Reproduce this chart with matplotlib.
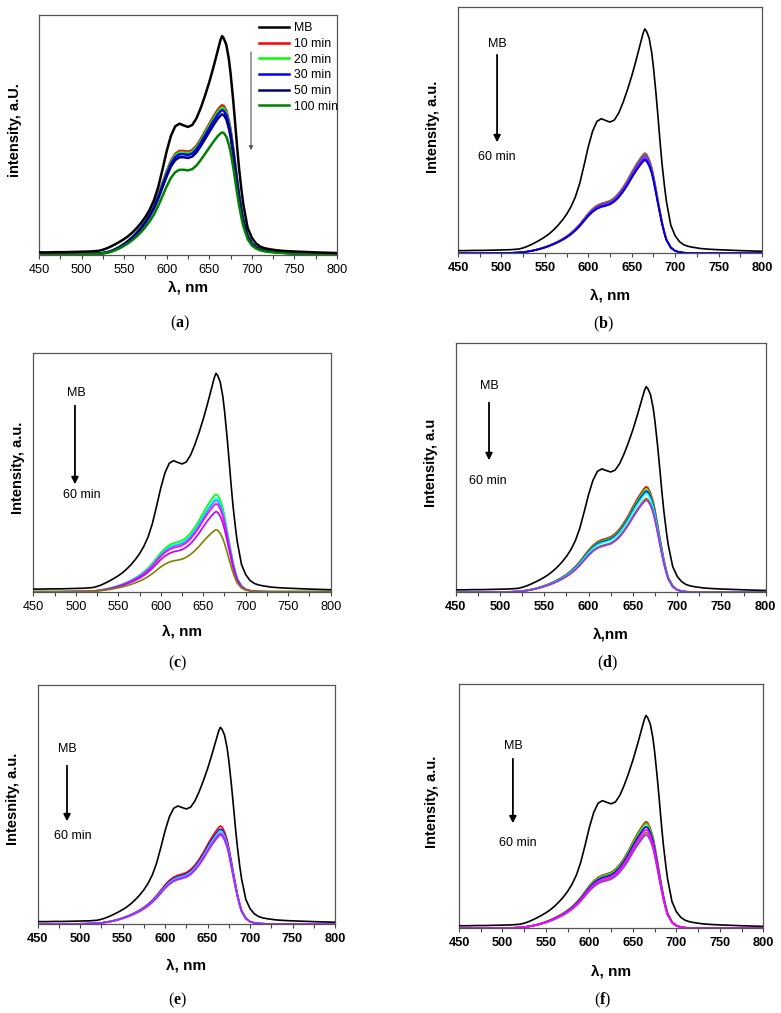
import numpy as np
import matplotlib
matplotlib.use("Agg")
import matplotlib.pyplot as plt
from matplotlib.ticker import MultipleLocator, NullLocator

plt.rcParams['font.family'] = ['Liberation Sans', 'DejaVu Sans']
plt.rcParams['mathtext.fontset'] = 'custom'
plt.rcParams['mathtext.rm'] = 'Liberation Serif'
plt.rcParams['mathtext.bf'] = 'Liberation Serif:bold'

# ---------------- data ----------------
wavelength = [450, 460, 470, 480, 490, 500, 510, 520, 525, 530, 535, 540, 545, 550,
              555, 560, 565, 570, 575, 580, 585, 590, 595, 600, 605, 610, 615, 620,
              625, 630, 635, 640, 645, 650, 655, 660, 663, 665, 667, 670, 673, 675,
              678, 680, 683, 685, 688, 690, 695, 700, 705, 710, 715, 720, 730, 740,
              750, 775, 800]

# normalized spectrum of the starting MB solution (peak = 1)
mb_shape = [0.012, 0.012, 0.013, 0.013, 0.014, 0.015, 0.016, 0.019, 0.024, 0.031,
            0.040, 0.050, 0.061, 0.073, 0.087, 0.104, 0.124, 0.147, 0.174, 0.207,
            0.250, 0.310, 0.390, 0.475, 0.545, 0.588, 0.600, 0.592, 0.585, 0.594,
            0.625, 0.672, 0.728, 0.790, 0.860, 0.935, 0.980, 1.000, 0.990, 0.960,
            0.895, 0.830, 0.710, 0.620, 0.480, 0.395, 0.290, 0.230, 0.125, 0.078,
            0.052, 0.038, 0.031, 0.027, 0.021, 0.018, 0.016, 0.012, 0.009]

# normalized spectrum of treated solutions, panel (a)
treated_a_shape = [0.004, 0.004, 0.004, 0.005, 0.005, 0.006, 0.007, 0.010, 0.013, 0.018,
                   0.027, 0.040, 0.056, 0.075, 0.097, 0.123, 0.153, 0.188, 0.228, 0.275,
                   0.330, 0.400, 0.480, 0.560, 0.630, 0.675, 0.695, 0.695, 0.690, 0.700,
                   0.730, 0.775, 0.825, 0.875, 0.925, 0.970, 0.990, 1.000, 0.995, 0.965,
                   0.900, 0.840, 0.720, 0.630, 0.490, 0.405, 0.295, 0.235, 0.130, 0.078,
                   0.052, 0.038, 0.030, 0.025, 0.019, 0.015, 0.012, 0.008, 0.006]

# normalized spectrum of treated solutions, panels (b)-(f)
treated_shape = [0.000, 0.000, 0.000, 0.000, 0.001, 0.002, 0.004, 0.008, 0.012, 0.018,
                 0.026, 0.036, 0.048, 0.062, 0.078, 0.097, 0.118, 0.142, 0.170, 0.203,
                 0.243, 0.290, 0.345, 0.400, 0.445, 0.478, 0.498, 0.510, 0.525, 0.555,
                 0.600, 0.660, 0.730, 0.810, 0.885, 0.950, 0.985, 1.000, 0.990, 0.940,
                 0.860, 0.780, 0.640, 0.540, 0.400, 0.310, 0.200, 0.140, 0.060, 0.025,
                 0.012, 0.006, 0.003, 0.001, 0.000, 0.000, 0.000, 0.000, 0.000]

# peak intensities (a.u.)
peaks_a = [0.912, 0.624, 0.615, 0.604, 0.586, 0.511]
labels_a = ["MB", "10 min", "20 min", "30 min", "50 min", "100 min"]
colors_a = ["#000000", "#ff0000", "#00ff00", "#0000ff", "#000080", "#008000"]

mb_peak_b = 0.912
peaks_b = [0.407, 0.402, 0.398, 0.390, 0.383, 0.378]
colors_b = ["#ff0000", "#00ff00", "#3333ff", "#ff00ff", "#0000ff", "#0000cd"]

mb_peak_c = 0.916
peaks_c = [0.409, 0.392, 0.383, 0.369, 0.336, 0.260]
colors_c = ["#00ff00", "#00ffff", "#3399ff", "#ff00ff", "#bb00ff", "#808000"]

mb_peak_d = 0.824
peaks_d = [0.423, 0.414, 0.405, 0.397, 0.376, 0.369]
colors_d = ["#ff0000", "#00ff00", "#0000ff", "#00ffff", "#8b7a00", "#9933ff"]

mb_peak_e = 0.823
peaks_e = [0.410, 0.397, 0.390, 0.380, 0.373]
colors_e = ["#ff0000", "#0000ff", "#00ffff", "#ff00ff", "#9933ff"]

mb_peak_f = 0.872
peaks_f = [0.437, 0.430, 0.417, 0.393, 0.383, 0.405]
colors_f = ["#ff0000", "#00ff00", "#0000ff", "#996633", "#9933ff", "#ff00ff"]

ylabels = ["intensity, a.U.", "Intensity, a.u.", "Intensity, a.u.",
           "Intensity, a.u", "Intesnity, a.u.", "Intensity, a.u."]
xlabels = ["λ, nm", "λ, nm", "λ, nm", "λ,nm", "λ, nm", "λ, nm"]
panel_letters = ["a", "b", "c", "d", "e", "f"]

# ---------------- layout (pixels) ----------------
W, H = 781, 1013
fig = plt.figure(figsize=(W / 100, H / 100), dpi=100)

boxes = [  # left, right, top, bottom
    (39, 337, 15, 255),
    (458, 762, 7.3, 253.3),
    (33.3, 330.7, 353.3, 591.7),
    (455.7, 765.7, 342.7, 592.3),
    (37.7, 335, 685, 924),
    (459, 763.3, 684.3, 928.3),
]
ylab_pos = [(-0.08, 0.52), (-0.083, 0.513), (-0.05, 0.519),
            (-0.08, 0.517), (-0.082, 0.523), (-0.09, 0.519)]
xlab_off = [33, 42, 40, 41.7, 41, 43]
tick_bold = [False, True, False, True, True, True]
caption_pos = [(180, 323), (603, 324), (178, 663), (607, 663), (178, 1000), (603, 1000)]

wl = np.array(wavelength)
mb = np.array(mb_shape)
ta = np.array(treated_a_shape)
tr = np.array(treated_shape)

axes = []
for i, (l, r, t, b) in enumerate(boxes):
    ax = fig.add_axes([l / W, 1 - b / H, (r - l) / W, (b - t) / H])
    ax.set_xlim(450, 800)
    ax.set_ylim(0, 1)
    ax.xaxis.set_major_locator(MultipleLocator(50))
    ax.xaxis.set_minor_locator(MultipleLocator(25))
    ax.yaxis.set_major_locator(NullLocator())
    ax.tick_params(axis='x', which='both', direction='out', length=3, width=0.8,
                   pad=3.5, labelsize=9.2, color='#444444')
    if tick_bold[i]:
        for lab in ax.get_xticklabels():
            lab.set_fontweight('bold')
    for sp in ax.spines.values():
        sp.set_color('#555555')
        sp.set_linewidth(0.9)
    ax.set_xlabel(xlabels[i], fontsize=11, fontweight='bold', va='center')
    ax.xaxis.set_label_coords(0.5, -xlab_off[i] / (b - t))
    ax.set_ylabel(ylabels[i], fontsize=10.5, fontweight='bold', va='center')
    ax.yaxis.set_label_coords(*ylab_pos[i])
    cx, cy = caption_pos[i]
    fig.text(cx / W, 1 - cy / H, r"$\mathrm{(}\mathbf{%s}\mathrm{)}$" % panel_letters[i],
             ha='center', va='center', fontsize=11.5)
    axes.append(ax)

# ---- panel (a)
ax = axes[0]
for k, (p, c, lab) in enumerate(zip(peaks_a, colors_a, labels_a)):
    shape = mb if k == 0 else ta
    ax.plot(wl, p * shape, color=c, lw=1.8, label=lab, zorder=3 if k == 0 else 2)
ax.legend(loc='upper left', bbox_to_anchor=(0.738, 0.97), frameon=False,
          fontsize=8.8, handlelength=2.5, handletextpad=0.35, labelspacing=0.3,
          borderpad=0, borderaxespad=0)
ax.annotate("", xy=(699, 0.425), xytext=(699, 0.858),
            arrowprops=dict(arrowstyle='-|>', color='#555555', lw=0.8,
                            mutation_scale=6))

# ---- panels (b)-(f)
panel_sets = [
    (mb_peak_b, peaks_b, colors_b),
    (mb_peak_c, peaks_c, colors_c),
    (mb_peak_d, peaks_d, colors_d),
    (mb_peak_e, peaks_e, colors_e),
    (mb_peak_f, peaks_f, colors_f),
]
arrow_specs = [  # x(nm), MB y, arrow top, arrow bottom, text x, text y
    (495, 0.851, 0.818, 0.44, 495, 0.391),
    (499, 0.833, 0.792, 0.439, 507, 0.406),
    (487.6, 0.827, 0.771, 0.518, 486.5, 0.446),
    (484.5, 0.732, 0.674, 0.418, 491.6, 0.368),
    (512, 0.747, 0.706, 0.419, 518, 0.35),
]
for j, ((mbp, pk, cols), arr) in enumerate(zip(panel_sets, arrow_specs)):
    ax = axes[j + 1]
    ax.plot(wl, mbp * mb, color='black', lw=1.2, zorder=3)
    for p, c in zip(pk, cols):
        ax.plot(wl, p * tr, color=c, lw=1.2, zorder=2)
    xa, ymb, y0, y1, xt, yt = arr
    ax.text(xa + (2 if j == 1 else 0), ymb, "MB", ha='center', va='center', fontsize=9)
    ax.annotate("", xy=(xa, y1), xytext=(xa, y0),
                arrowprops=dict(arrowstyle='-|>', color='black', lw=1.3,
                                mutation_scale=10))
    ax.text(xt, yt, "60 min", ha='center', va='center', fontsize=9)

fig.savefig("out.png", dpi=100)
